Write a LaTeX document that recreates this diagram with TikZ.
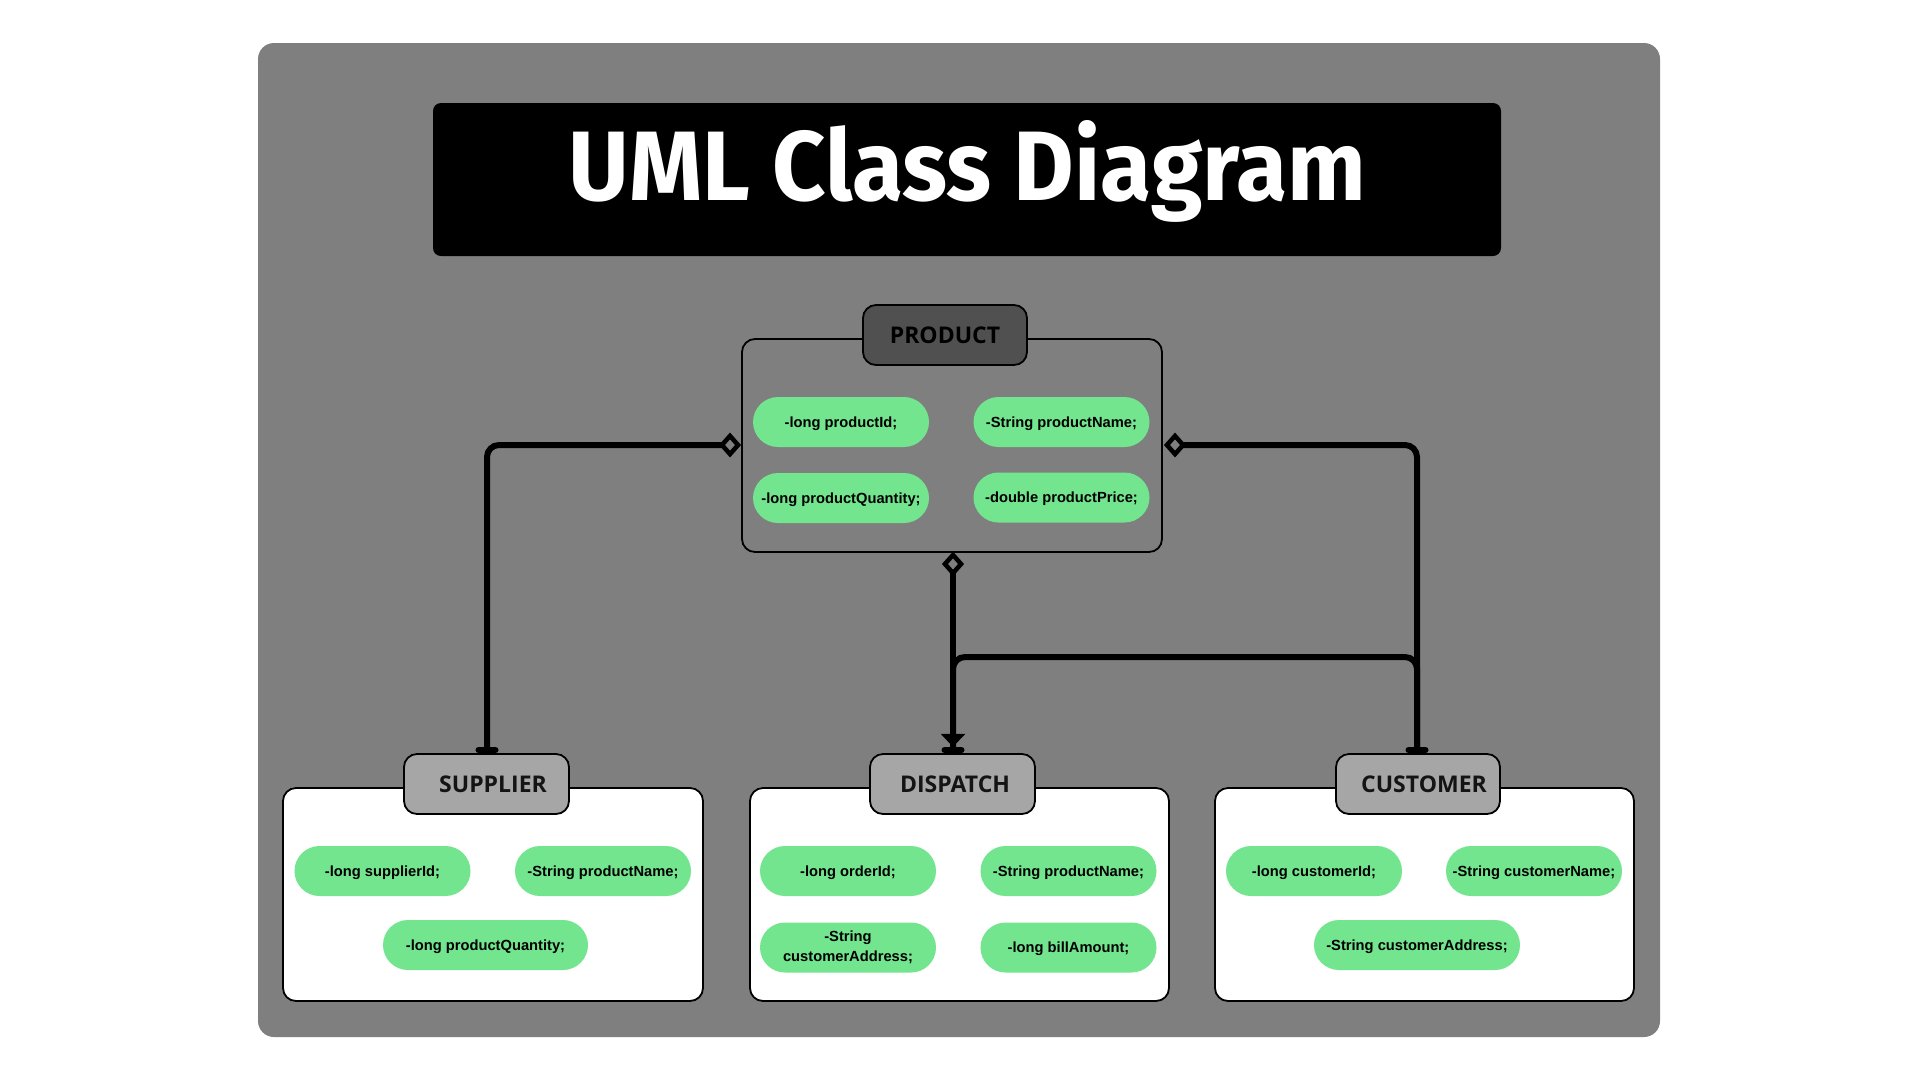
\documentclass[tikz,border=0pt]{standalone}
\usepackage{fontspec}
\setmainfont{Liberation Sans}
\newfontfamily\hdrfont{Open Sans}
\newfontfamily\ttlfont{Fira Sans}
\usetikzlibrary{shapes.geometric,arrows.meta}
\definecolor{bggray}{HTML}{7F7F7F}
\definecolor{darkhdr}{HTML}{505050}
\definecolor{lighthdr}{HTML}{A6A6A6}
\definecolor{pillgreen}{HTML}{72E58E}
\definecolor{hdrtext}{HTML}{141414}
\begin{document}
\begin{tikzpicture}[x=1pt,y=-1pt,
  panel/.style={fill=bggray, rounded corners=16pt, minimum width=1402pt, minimum height=994pt, inner sep=0pt},
  titlebox/.style={fill=black, rounded corners=8pt, minimum width=1068pt, minimum height=153pt, inner sep=0pt},
  classbox/.style={draw=black, line width=1.8pt, rounded corners=13pt, minimum width=420pt, minimum height=213pt, inner sep=0pt},
  hdr/.style={draw=black, line width=1.8pt, rounded corners=13pt, minimum width=165pt, minimum height=60pt, inner sep=0pt, text=hdrtext, font=\hdrfont\bfseries\fontsize{23}{26}\selectfont},
  pill/.style={fill=pillgreen, rounded corners=25pt, minimum width=176pt, minimum height=50pt, inner sep=0pt, text height=10.5pt, text depth=0pt, font=\bfseries\fontsize{14.7}{19.5}\selectfont},
  conn/.style={draw=black, line width=6pt, rounded corners=12pt},
  agg/.style={diamond, draw=black, line width=4.5pt, fill=bggray, minimum width=18pt, minimum height=20pt, inner sep=0pt},
  tbar/.style={fill=black, rounded corners=3pt, minimum width=23pt, minimum height=6pt, inner sep=0pt}
]
\useasboundingbox (0,0) rectangle (1920,1080);
\fill[white] (0,0) rectangle (1920,1080);
\node[panel] (bg) at (959,540) {};
\node[titlebox] (ttlbox) at (967,179.5) {};
\node[anchor=base, text=white, inner sep=0pt] (ttl) at (967.5,200) {\ttlfont\bfseries\fontsize{98.7}{104}\selectfont\scalebox{0.944}[1]{UML Class Diagram}};

% connectors
\node[tbar] (tS) at (487,750) {};
\node[tbar] (tD) at (953,750) {};
\node[tbar] (tC) at (1417,750) {};
\coordinate (dL0) at (730,445);
\coordinate (dR0) at (1175,445);
\coordinate (dB0) at (953,564);
\coordinate (j1) at (953,657);
\coordinate (j2) at (1417,657);
\draw[conn] (dL0) -| (tS.center);
\draw[conn] (dR0) -| (tC.center);
\draw[conn] (tD.center) -- (j1) -- (j2) -- (tC.center);
\draw[conn, rounded corners=0pt, -{Triangle[width=24pt,length=13pt]}] (dB0) -- (tD.north);

% PRODUCT
\node[classbox] (prod) at (952,445.5) {};
\node[hdr, fill=darkhdr, minimum width=164pt, text=black] (prodH) at (945,335) {PRODUCT};
\node[pill] (p1) at (841,422) {-long productId;};
\node[pill] (p2) at (1061.5,422) {-String productName;};
\node[pill] (p3) at (841,498) {-long productQuantity;};
\node[pill] (p4) at (1061.5,497.5) {-double productPrice;};

% SUPPLIER
\node[classbox, fill=white] (sup) at (493,894.5) {};
\node[hdr, fill=lighthdr] (supH) at (486.5,784) {\hspace*{13pt}SUPPLIER};
\node[pill] (s1) at (382.5,871) {-long supplierId;};
\node[pill] (s2) at (603,871) {-String productName;};
\node[pill, minimum width=205pt] (s3) at (485.5,945) {-long productQuantity;};

% DISPATCH
\node[classbox, fill=white, minimum width=419pt] (dis) at (959.5,894.5) {};
\node[hdr, fill=lighthdr] (disH) at (952.5,784) {\hspace*{5pt}DISPATCH};
\node[pill] (d1) at (848,871) {-long orderId;};
\node[pill] (d2) at (1068.5,871) {-String productName;};
\node[pill, align=center, text height=, text depth=] (d3) at (848,947.5) {-String\\customerAddress;};
\node[pill] (d4) at (1068.5,947.5) {-long billAmount;};

% CUSTOMER
\node[classbox, fill=white, minimum width=419pt] (cus) at (1424.5,894.5) {};
\node[hdr, fill=lighthdr, minimum width=164pt] (cusH) at (1418,784) {\hspace*{12pt}CUSTOMER};
\node[pill] (c1) at (1314,871) {-long customerId;};
\node[pill] (c2) at (1534,871) {-String customerName;};
\node[pill, minimum width=206pt] (c3) at (1417,945) {-String customerAddress;};

% aggregation diamonds
\node[agg] (dL) at (dL0) {};
\node[agg] (dR) at (dR0) {};
\node[agg] (dB) at (dB0) {};
\end{tikzpicture}
\end{document}
